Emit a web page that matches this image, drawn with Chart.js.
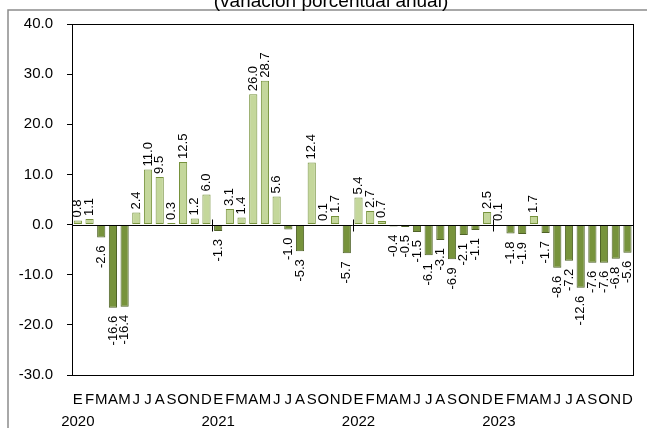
<!DOCTYPE html>
<html>
<head>
<meta charset="utf-8">
<script src="https://cdn.jsdelivr.net/npm/chart.js@4.4.1/dist/chart.umd.min.js"></script>
<style>
html, body { margin: 0; padding: 0; background: #fff; }
#wrap { width: 647px; height: 428px; position: relative; }
</style>
</head>
<body>
<div id="wrap"><canvas id="chart"></canvas></div>
<script>
const title = '(variación porcentual anual)';
const years = ['2020', '2021', '2022', '2023'];
const months = ['E', 'F', 'M', 'A', 'M', 'J', 'J', 'A', 'S', 'O', 'N', 'D'];

const v2020 = [0.8, 1.1, -2.6, -16.6, -16.4, 2.4, 11.0, 9.5, 0.3, 12.5, 1.2, 6.0];
const v2021 = [-1.3, 3.1, 1.4, 26.0, 28.7, 5.6, -1.0, -5.3, 12.4, 0.1, 1.7, -5.7];
const v2022 = [5.4, 2.7, 0.7, -0.4, -0.5, -1.5, -6.1, -3.1, -6.9, -2.1, -1.1, 2.5];
const v2023 = [0.1, -1.8, -1.9, 1.7, -1.7, -8.6, -7.2, -12.6, -7.6, -7.6, -6.8, -5.6];

const yMin = -30, yMax = 40, yStep = 10;

const values = [...v2020, ...v2021, ...v2022, ...v2023];
let labels = [];
years.forEach(yr => {
    months.forEach((m, i) => labels.push(i === 0 ? [m, yr] : m));
});

const posFill = '#c4d79b', posLine = '#76923c';
const negFill = '#77933c', negLine = '#4f6228';

// frame, title, plot box, zero line, year marks and value labels
const decor = {
    id: 'decor',
    beforeDraw(chart) {
        const ctx = chart.ctx;
        ctx.save();
        ctx.strokeStyle = '#8c8c8c';
        ctx.lineWidth = 1.5;
        ctx.beginPath();
        ctx.moveTo(8, 428);
        ctx.lineTo(8, 10);
        ctx.lineTo(647, 10);
        ctx.stroke();
        ctx.fillStyle = '#000';
        ctx.font = '19px "Liberation Sans", Arial, sans-serif';
        ctx.textAlign = 'center';
        ctx.textBaseline = 'alphabetic';
        ctx.fillText(title, 331, 7);
        ctx.restore();
    },
    afterDatasetsDraw(chart) {
        const ctx = chart.ctx;
        const a = chart.chartArea;
        const x = chart.scales.x, y = chart.scales.y;
        ctx.save();
        ctx.strokeStyle = '#000';
        ctx.lineWidth = 1;
        ctx.strokeRect(Math.round(a.left) + 0.5, Math.round(a.top) + 0.5, Math.round(a.width), Math.round(a.height));

        const y0 = Math.round(y.getPixelForValue(0)) + 0.5;
        ctx.beginPath();
        ctx.moveTo(a.left, y0);
        ctx.lineTo(a.right, y0);
        for (let i = 12; i < values.length; i += 12) {
            const px = Math.round((x.getPixelForValue(i - 1) + x.getPixelForValue(i)) / 2) + 0.5;
            ctx.moveTo(px, y0 - 6);
            ctx.lineTo(px, y0 + 6);
        }
        ctx.stroke();

        ctx.fillStyle = '#000';
        ctx.font = '13px "Liberation Sans", Arial, sans-serif';
        ctx.textBaseline = 'middle';
        const meta = chart.getDatasetMeta(0);
        meta.data.forEach((bar, i) => {
            const v = values[i];
            ctx.save();
            ctx.translate(bar.x, v >= 0 ? bar.y - 3 : bar.y + 8);
            ctx.rotate(-Math.PI / 2);
            ctx.textAlign = v >= 0 ? 'left' : 'right';
            ctx.fillText(v.toFixed(1), 0, 0);
            ctx.restore();
        });
        ctx.restore();
    }
};

const ctx = document.getElementById('chart');

new Chart(ctx, {
    type: 'bar',
    data: {
        labels: labels,
        datasets: [{
            data: values,
            backgroundColor: c => values[c.dataIndex] >= 0 ? posFill : negFill,
            borderColor: c => values[c.dataIndex] >= 0 ? posLine : negLine,
            borderWidth: 1,
            borderSkipped: false,
            barPercentage: 0.7,
            categoryPercentage: 1.0
        }]
    },
    options: {
        responsive: true,
        maintainAspectRatio: false,
        animation: false,
        devicePixelRatio: 1,
        layout: { padding: { top: 24, right: 12, left: 0, bottom: 0 } },
        plugins: {
            legend: { display: false },
            tooltip: { enabled: false }
        },
        scales: {
            x: {
                offset: true,
                grid: { display: false, drawTicks: false },
                border: { display: false },
                ticks: {
                    autoSkip: false,
                    maxRotation: 0,
                    minRotation: 0,
                    padding: 14,
                    color: '#000',
                    font: { family: '"Liberation Sans", Arial, sans-serif', size: 15, lineHeight: 1.45 }
                },
                afterFit: s => { s.height = 53; }
            },
            y: {
                min: yMin,
                max: yMax,
                grid: { drawOnChartArea: false, drawTicks: true, tickLength: 5, color: '#000' },
                border: { display: false },
                ticks: {
                    stepSize: yStep,
                    padding: 14,
                    color: '#000',
                    font: { family: '"Liberation Sans", Arial, sans-serif', size: 15 },
                    callback: v => v.toFixed(1)
                },
                afterFit: s => { s.width = 72; }
            }
        }
    },
    plugins: [decor]
});
</script>
</body>
</html>
